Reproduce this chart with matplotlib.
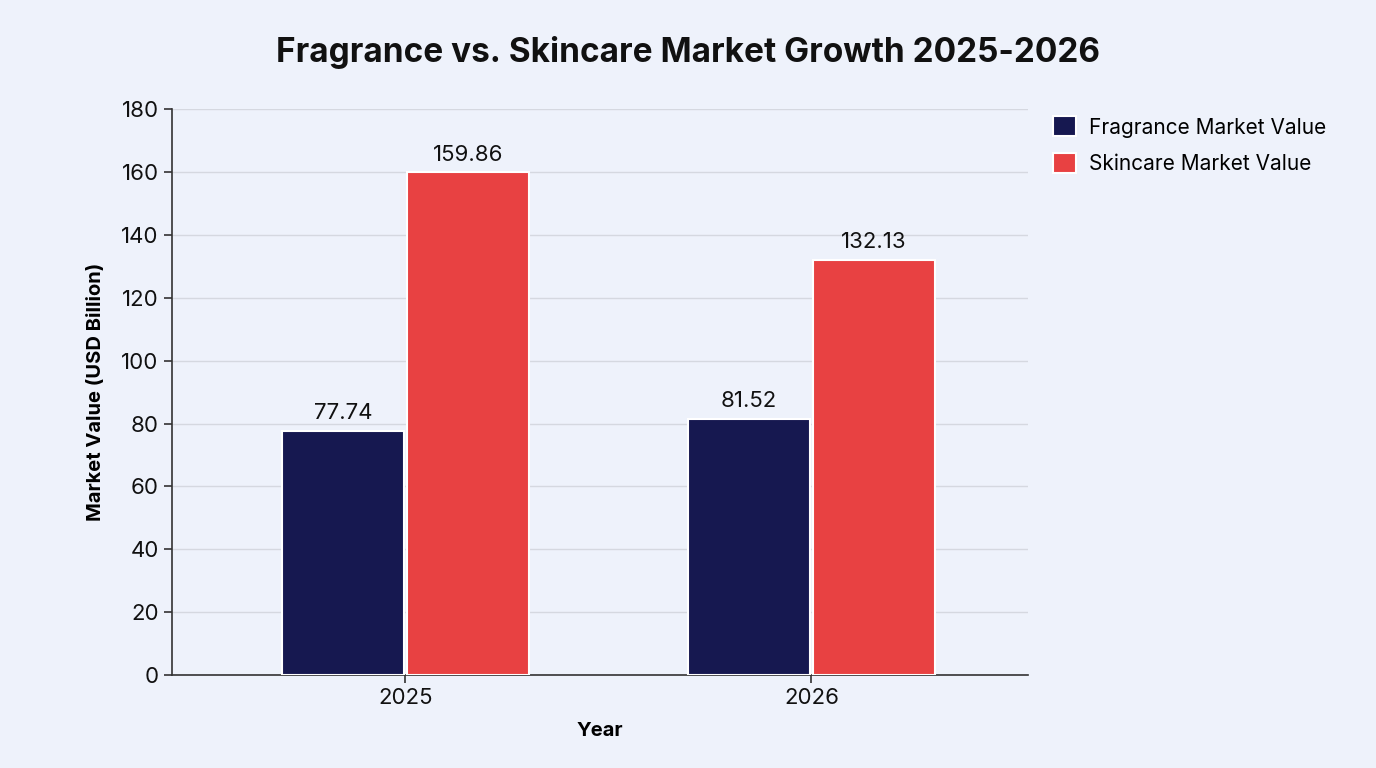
import matplotlib
matplotlib.use("Agg")
import matplotlib.pyplot as plt
import numpy as np

years = ["2025", "2026"]
fragrance = [77.74, 81.52]
skincare = [159.86, 132.13]
series_names = ["Fragrance Market Value", "Skincare Market Value"]
yticks = [0, 20, 40, 60, 80, 100, 120, 140, 160, 180]

plt.rcParams['font.family'] = ['Inter', 'DejaVu Sans']
bg = "#EEF2FB"
c_frag = "#161850"
c_skin = "#E84142"

fig = plt.figure(figsize=(13.76, 7.68), dpi=100, facecolor=bg)
ax = fig.add_axes([0.125, 0.121, 0.622, 0.737], facecolor=bg)

x = np.arange(len(years))
w = 0.3
b1 = ax.bar(x - w/2 - 0.004, fragrance, w, color=c_frag, edgecolor="white", linewidth=1.5, label=series_names[0], zorder=3)
b2 = ax.bar(x + w/2 + 0.004, skincare, w, color=c_skin, edgecolor="white", linewidth=1.5, label=series_names[1], zorder=3)

for bars, vals in ((b1, fragrance), (b2, skincare)):
    for r, v in zip(bars, vals):
        ax.text(r.get_x() + r.get_width()/2, v + 2.3, f"{v:.2f}", ha="center", va="bottom", fontsize=16, color="#111111")

ax.set_ylim(0, 180)
ax.set_yticks(yticks)
ax.set_xlim(-0.575, 1.533)
ax.set_xticks(x)
ax.set_xticklabels(years)
ax.tick_params(axis="both", labelsize=16, colors="#111111", length=6, width=1.2, color="#333333")
ax.grid(axis="y", color="#D5D8E0", linewidth=1, zorder=0)
ax.set_axisbelow(True)
for s in ["top", "right"]:
    ax.spines[s].set_visible(False)
for s in ["left", "bottom"]:
    ax.spines[s].set_color("#333333")
    ax.spines[s].set_linewidth(1.2)

ax.set_xlabel("Year", fontsize=14.5, fontweight="bold", labelpad=10)
ax.set_ylabel("Market Value (USD Billion)", fontsize=14.5, fontweight="bold", labelpad=12)
fig.text(0.5, 0.931, "Fragrance vs. Skincare Market Growth 2025-2026", ha="center", va="center", fontsize=24, fontweight="bold", color="#111111")

leg = ax.legend(loc="upper left", bbox_to_anchor=(1.008, 1.02), frameon=False, fontsize=15, handlelength=1.1, handleheight=1.1, handletextpad=0.6, labelspacing=0.75)

fig.savefig("out.png", dpi=100, facecolor=bg)
